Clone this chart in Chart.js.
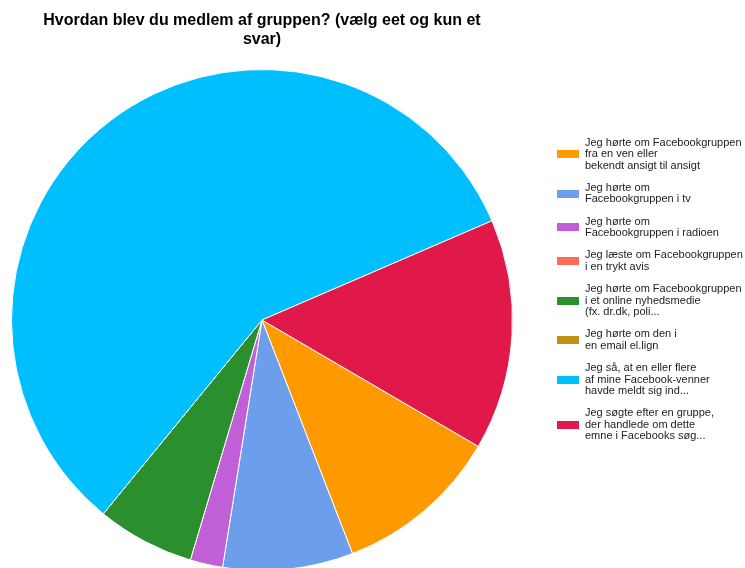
<!doctype html>
<html>
<head>
    <meta charset="UTF-8"/>
    <title>Chart</title>
    <style type="text/css">
        html, body { margin: 0; padding: 0; background: #fff; overflow: hidden; }
        .chartBox { width: 745px; height: 568px; overflow: hidden; }
    </style>
</head>
<body>
    <div class="chartBox">
        <canvas id="myChart" width="745" height="574"></canvas>
    </div>

    <script src="https://cdn.jsdelivr.net/npm/chart.js"></script>

    <script>
        const titleLines = ['Hvordan blev du medlem af gruppen? (vælg eet og kun et', 'svar)'];

        const labels = [
            ['Jeg hørte om Facebookgruppen', 'fra en ven eller', 'bekendt ansigt til ansigt'],
            ['Jeg hørte om', 'Facebookgruppen i tv'],
            ['Jeg hørte om', 'Facebookgruppen i radioen'],
            ['Jeg læste om Facebookgruppen', 'i en trykt avis'],
            ['Jeg hørte om Facebookgruppen', 'i et online nyhedsmedie', '(fx. dr.dk, poli...'],
            ['Jeg hørte om den i', 'en email el.lign'],
            ['Jeg så, at en eller flere', 'af mine Facebook-venner', 'havde meldt sig ind...'],
            ['Jeg søgte efter en gruppe,', 'der handlede om dette', 'emne i Facebooks søg...']
        ];

        // share of answers (%)
        const values = [10.7, 8.4, 2.1, 0, 6.3, 0, 57.6, 14.9];

        const colors = ['#ff9900', '#6d9eeb', '#c160d6', '#ff6b57', '#2b8f2e', '#c49213', '#00bfff', '#e0194a'];

        const sideLegend = {
            id: 'sideLegend',
            afterDraw(chart) {
                const ctx = chart.ctx;
                ctx.save();

                ctx.fillStyle = '#000';
                ctx.font = 'bold 16px "Liberation Sans", Arial, sans-serif';
                ctx.textAlign = 'center';
                ctx.textBaseline = 'middle';
                titleLines.forEach((t, i) => ctx.fillText(t, 262, 21 + i * 19));

                const lineH = 11.6;
                const gap = 22.1;
                let y = 142.5;
                ctx.font = '11px "Liberation Sans", Arial, sans-serif';
                ctx.textAlign = 'left';
                labels.forEach((lines, i) => {
                    const mid = y + (lines.length - 1) * lineH / 2;
                    ctx.fillStyle = colors[i];
                    ctx.fillRect(557, Math.round(mid) - 4, 22, 8);
                    ctx.fillStyle = '#222';
                    lines.forEach((t, j) => ctx.fillText(t, 585, y + j * lineH));
                    y += (lines.length - 1) * lineH + gap;
                });

                ctx.restore();
            }
        };

        const data = {
            labels: labels,
            datasets: [{
                data: values,
                backgroundColor: colors,
                borderColor: '#ffffff',
                borderWidth: 1,
                hoverOffset: 0,
                offset: 0
            }]
        };

        const config = {
            type: 'pie',
            data: data,
            options: {
                responsive: false,
                animation: false,
                rotation: 120.3,
                layout: {
                    padding: { top: 69, bottom: 3, left: 11, right: 232 }
                },
                plugins: {
                    legend: { display: false },
                    title: { display: false },
                    tooltip: { enabled: false }
                }
            },
            plugins: [sideLegend]
        };

        const myChart = new Chart(
            document.getElementById('myChart'),
            config
        );
    </script>
</body>
</html>
